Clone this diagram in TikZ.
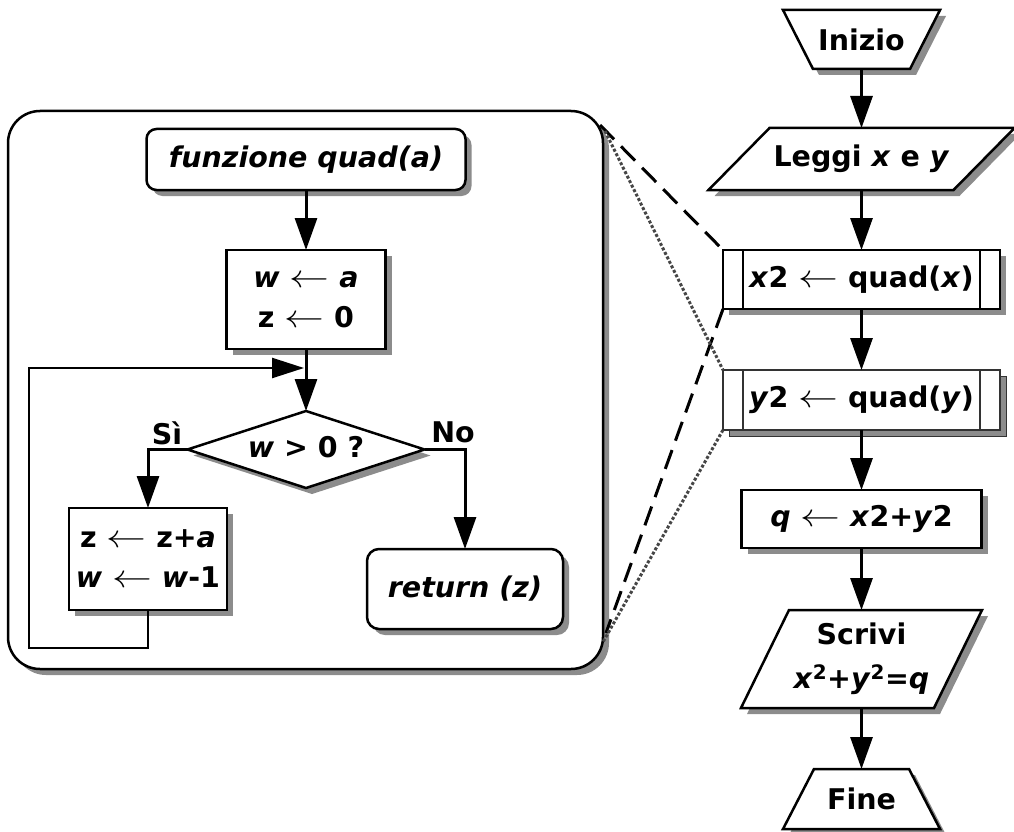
\documentclass[tikz,border=0pt]{standalone}
\usepackage{graphicx}
\usepackage{fontspec}
\setmainfont{DejaVu Sans}
\usetikzlibrary{arrows.meta,backgrounds}
\definecolor{shadowgray}{RGB}{140,140,140}
\definecolor{dotgray}{RGB}{70,70,70}
% fill a closed path with a drop shadow, then draw it in white with a black border;
% every point of the path is written as ([sh]...), so the shadow pass moves it
\newcommand\withshadow[2][]{%
  \tikzset{sh/.style={xshift=6pt,yshift=-6pt}}%
  \fill[shadowgray,#1] #2;%
  \tikzset{sh/.style={}}%
  \filldraw[fill=white,draw=black,line width=2.5pt,line join=miter,#1] #2;}
% thin, long assignment arrow
\newcommand\assign{\scalebox{1.6}[1.3]{$\leftarrow$}}
\begin{document}
\begin{tikzpicture}[x=1pt,y=-1pt,
  font=\fontsize{28.5}{40}\selectfont\bfseries,
  txt/.style={inner sep=0pt,outer sep=0pt,align=center},
  arr/.style={line width=3pt,-{Triangle[length=32pt,width=22pt]}},
  looparr/.style={line width=2.4pt,-{Triangle[length=32pt,width=20pt]}},
  zoomdash/.style={line width=3pt,dash pattern=on 20pt off 10pt},
  zoomdot/.style={line width=3pt,dotgray,dash pattern=on 3pt off 2pt},
  sidebar/.style={line width=2pt},
  sh/.style={},
]
\useasboundingbox (0,0) rectangle (1014,832);

% ---------- main program ----------
\node[txt,minimum width=157pt,minimum height=59pt] (inizio) at (861.5,39.5) {Inizio};
\node[txt,minimum width=245pt,minimum height=62pt] (leggi) at (861.5,159) {Leggi \textit{x} e \textit{y}};
\node[txt,minimum width=277pt,minimum height=59pt] (x2) at (861.5,279.5) {\textit{x}2 \assign{} quad(\textit{x})};
\node[txt,minimum width=277pt,minimum height=60pt] (y2) at (861.5,400) {\textit{y}2 \assign{} quad(\textit{y})};
\node[txt,minimum width=240pt,minimum height=58pt] (q) at (861.5,519) {\textit{q} \assign{} \textit{x}2+\textit{y}2};
\node[txt,minimum width=193pt,minimum height=98pt] (scrivi) at (861.5,659) {Scrivi\\[4pt]\textit{x}\textsuperscript{2}+\textit{y}\textsuperscript{2}=\textit{q}};
\node[txt,minimum width=157pt,minimum height=60pt] (fine) at (861.5,799) {Fine};

% ---------- function quad ----------
\node[txt,minimum width=595pt,minimum height=558pt] (panel) at (305.5,390) {};
\node[txt,minimum width=319pt,minimum height=61pt] (funz) at (306,159.5) {\textit{funzione quad(a)}};
\node[txt,minimum width=159pt,minimum height=99pt] (init) at (306,299.5) {\textit{w} \assign{} \textit{a}\\z \assign{} 0};
\node[txt,minimum width=237pt,minimum height=77pt] (cond) at (306,449.5) {\raisebox{5pt}{\textit{w} > 0 ?}};
\node[txt,minimum width=158pt,minimum height=102pt] (body) at (148,559) {z \assign{} z+\textit{a}\\\textit{w} \assign{} \textit{w}-1};
\node[txt,minimum width=196pt,minimum height=80pt] (ret) at (465,589) {\textit{return (z)}};
\node[txt] (si) at (167,433) {Sì};
\node[txt] (no) at (453,432) {No};

\coordinate (join) at (304,368);
\coordinate (loopbl) at (29,648);
\coordinate (pTRa) at (600,125);
\coordinate (pTRb) at (605,131);
\coordinate (pBRa) at (606,633);
\coordinate (pBRb) at (603,642);

% ---------- outlines and shadows ----------
\begin{pgfonlayer}{background}
  \withshadow[rounded corners=32pt]{([sh]panel.north west) rectangle ([sh]panel.south east)}
  \withshadow[rounded corners=10pt]{([sh]funz.north west) rectangle ([sh]funz.south east)}
  \withshadow{([sh]init.north west) rectangle ([sh]init.south east)}
  \withshadow{([sh]cond.north) -- ([sh]cond.east) -- ([sh]cond.south) -- ([sh]cond.west) -- cycle}
  \withshadow{([sh]body.north west) rectangle ([sh]body.south east)}
  \withshadow[rounded corners=12pt]{([sh]ret.north west) rectangle ([sh]ret.south east)}

  \withshadow{([sh]inizio.north west) -- ([sh]inizio.north east) -- ([sh,xshift=-30pt]inizio.south east) -- ([sh,xshift=30pt]inizio.south west) -- cycle}
  \withshadow{([sh,xshift=30.5pt]leggi.north west) -- ([sh,xshift=30.5pt]leggi.north east) -- ([sh,xshift=-30.5pt]leggi.south east) -- ([sh,xshift=-30.5pt]leggi.south west) -- cycle}
  \withshadow{([sh]x2.north west) rectangle ([sh]x2.south east)}
  \withshadow[draw=black!80]{([sh]y2.north west) rectangle ([sh]y2.south east)}
  \withshadow{([sh]q.north west) rectangle ([sh]q.south east)}
  \withshadow{([sh,xshift=24pt]scrivi.north west) -- ([sh,xshift=24pt]scrivi.north east) -- ([sh,xshift=-24pt]scrivi.south east) -- ([sh,xshift=-24pt]scrivi.south west) -- cycle}
  \withshadow{([sh,xshift=31pt]fine.north west) -- ([sh,xshift=-31pt]fine.north east) -- ([sh]fine.south east) -- ([sh]fine.south west) -- cycle}
\end{pgfonlayer}

% side bars of the subroutine calls
\draw[sidebar] ([xshift=20pt]x2.north west) -- ([xshift=20pt]x2.south west);
\draw[sidebar] ([xshift=-20pt]x2.north east) -- ([xshift=-20pt]x2.south east);
\draw[sidebar,black!80] ([xshift=20pt]y2.north west) -- ([xshift=20pt]y2.south west);
\draw[sidebar,black!80] ([xshift=-20pt]y2.north east) -- ([xshift=-20pt]y2.south east);

% ---------- connectors ----------
\draw[arr] (inizio.south) -- (leggi.north);
\draw[arr] (leggi.south) -- (x2.north);
\draw[arr] (x2.south) -- (y2.north);
\draw[arr] (y2.south) -- (q.north);
\draw[arr] (q.south) -- (scrivi.north);
\draw[arr] (scrivi.south) -- (fine.north);

\draw[arr] (funz.south) -- (init.north);
\draw[arr] (init.south) -- (cond.north);
\draw[arr] (cond.west) -| (body.north);
\draw[arr] (cond.east) -| (ret.north);
\draw[looparr] (body.south) |- (loopbl) |- (join);

% links from the subroutine calls to the expanded function
\draw[zoomdash] (pTRa) -- (x2.north west);
\draw[zoomdash] (x2.south west) -- (pBRa);
\draw[zoomdot] (pTRb) -- (y2.north west);
\draw[zoomdot] (y2.south west) -- (pBRb);
\end{tikzpicture}
\end{document}
